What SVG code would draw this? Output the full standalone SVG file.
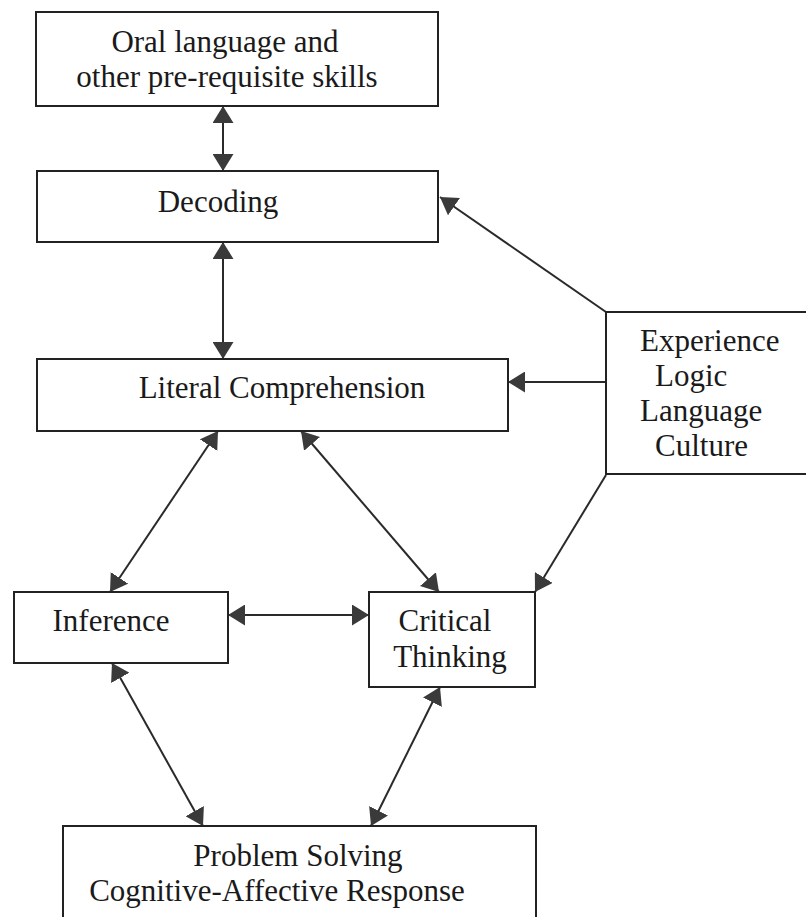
<svg xmlns="http://www.w3.org/2000/svg" width="806" height="917" viewBox="0 0 806 917">
<style>
.box{fill:#fff;stroke:#222;stroke-width:2}
.t{font-family:"Liberation Serif","Times New Roman",serif;font-size:31px;fill:#1a1a1a;text-anchor:middle}
.s{text-anchor:start}
.c{fill:none;stroke:#2a2a2a;stroke-width:2}
</style>
<defs>
<marker id="ah" viewBox="0 0 17 21" refX="17" refY="10.5" markerWidth="17" markerHeight="21" markerUnits="userSpaceOnUse" orient="auto-start-reverse">
<path d="M0,0 L17,10.5 L0,21 z" fill="#3a3a3a"/>
</marker>
</defs>
<rect width="806" height="917" fill="#fff"/>
<g id="connectors">
<line class="c" x1="223" y1="106" x2="223" y2="171" marker-start="url(#ah)" marker-end="url(#ah)"/>
<line class="c" x1="223" y1="242" x2="223" y2="359" marker-start="url(#ah)" marker-end="url(#ah)"/>
<line class="c" x1="606" y1="312" x2="440" y2="197" marker-end="url(#ah)"/>
<line class="c" x1="606" y1="382" x2="508" y2="382" marker-end="url(#ah)"/>
<line class="c" x1="606" y1="475" x2="535" y2="592" marker-end="url(#ah)"/>
<line class="c" x1="218" y1="431" x2="110" y2="592" marker-start="url(#ah)" marker-end="url(#ah)"/>
<line class="c" x1="301" y1="431" x2="439" y2="592" marker-start="url(#ah)" marker-end="url(#ah)"/>
<line class="c" x1="228" y1="615" x2="369" y2="615" marker-start="url(#ah)" marker-end="url(#ah)"/>
<line class="c" x1="112" y1="663" x2="203" y2="826" marker-start="url(#ah)" marker-end="url(#ah)"/>
<line class="c" x1="440" y1="687" x2="371" y2="826" marker-start="url(#ah)" marker-end="url(#ah)"/>
</g>
<g id="oral">
<rect class="box" x="36" y="12" width="402" height="94"/>
<text class="t" x="225" y="52">Oral language and</text>
<text class="t" x="227" y="87">other pre-requisite skills</text>
</g>
<g id="decoding">
<rect class="box" x="37" y="171" width="401" height="71"/>
<text class="t" x="218" y="212">Decoding</text>
</g>
<g id="literal">
<rect class="box" x="37" y="359" width="471" height="72"/>
<text class="t" x="282" y="398">Literal Comprehension</text>
</g>
<g id="experience">
<rect class="box" x="606" y="312" width="210" height="162"/>
<text class="t s" x="640" y="351">Experience</text>
<text class="t s" x="655" y="386">Logic</text>
<text class="t s" x="640" y="421">Language</text>
<text class="t s" x="655" y="456">Culture</text>
</g>
<g id="inference">
<rect class="box" x="14" y="592" width="214" height="71"/>
<text class="t" x="111" y="631">Inference</text>
</g>
<g id="critical">
<rect class="box" x="369" y="592" width="166" height="95"/>
<text class="t" x="445" y="631">Critical</text>
<text class="t" x="450" y="667">Thinking</text>
</g>
<g id="problem">
<rect class="box" x="63" y="826" width="473" height="110"/>
<text class="t" x="298" y="866">Problem Solving</text>
<text class="t" x="277" y="901">Cognitive-Affective Response</text>
</g>
</svg>
